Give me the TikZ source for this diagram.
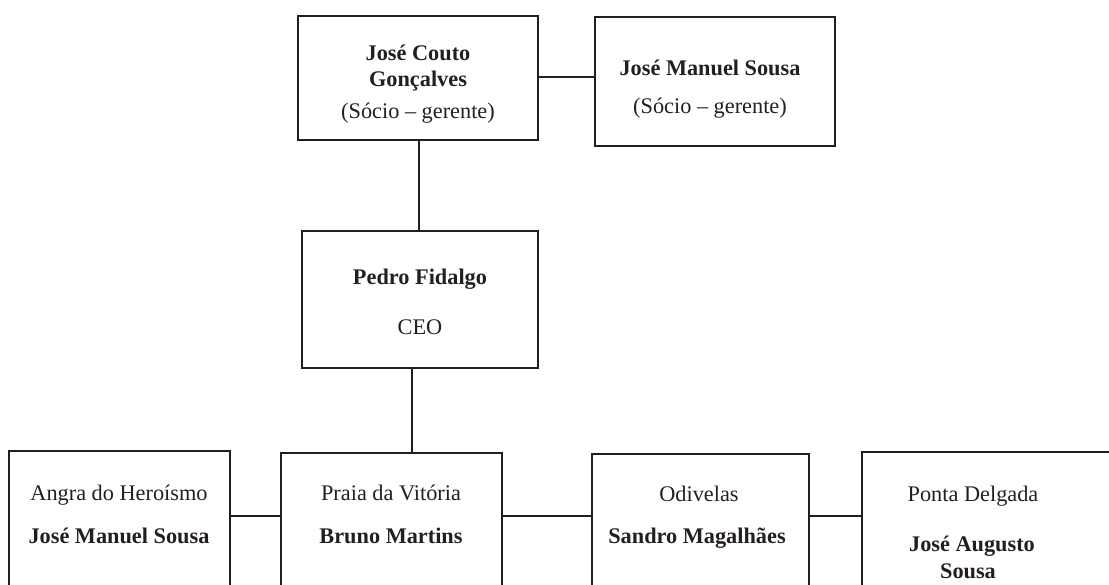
\documentclass[tikz,border=0pt]{standalone}
\usepackage{fontspec}
\setmainfont{Liberation Serif}
\definecolor{ink}{HTML}{231F20}
\begin{document}
\begin{tikzpicture}[x=1pt,y=-1pt,
  box/.style={draw=ink, line width=1.8pt, inner sep=0pt, outer sep=0pt},
  conn/.style={draw=ink, line width=1.8pt},
  txt/.style={anchor=base, inner sep=0pt, text=ink, font=\fontsize{22.3}{26}\selectfont},
  btxt/.style={txt, font=\fontsize{22.3}{26}\selectfont\bfseries}]
\useasboundingbox (0,0) rectangle (1109,584);
\clip (0,0) rectangle (1109,584);
% boxes
\node[box, minimum width=240pt, minimum height=124pt] (a1) at (418,78) {};
\node[box, minimum width=240pt, minimum height=129pt] (a2) at (715,81.5) {};
\node[box, minimum width=236pt, minimum height=137pt] (ceo) at (420,299.5) {};
\node[box, minimum width=221pt, minimum height=149pt] (b1) at (119.5,525.5) {};
\node[box, minimum width=221pt, minimum height=147pt] (b2) at (391.5,526.5) {};
\node[box, minimum width=217pt, minimum height=146pt] (b3) at (700.5,527) {};
\node[box, minimum width=338pt, minimum height=148pt] (b4) at (1031,526) {};
% texts
\node[btxt] (a1t1) at (418,60) {José Couto};
\node[btxt] (a1t2) at (418,86) {Gonçalves};
\node[txt] (a1t3) at (418,118) {(Sócio – gerente)};
\node[btxt] (a2t1) at (710,75.5) {José Manuel Sousa};
\node[txt] (a2t2) at (710,113) {(Sócio – gerente)};
\node[btxt] (ceot1) at (420,284) {Pedro Fidalgo};
\node[txt] (ceot2) at (420,334) {CEO};
\node[txt] (b1t1) at (119,500) {Angra do Heroísmo};
\node[btxt] (b1t2) at (119,543) {José Manuel Sousa};
\node[txt] (b2t1) at (391,500) {Praia da Vitória};
\node[btxt] (b2t2) at (391,543) {Bruno Martins};
\node[txt] (b3t1) at (699,501) {Odivelas};
\node[btxt] (b3t2) at (697,543) {Sandro Magalhães};
\node[txt] (b4t1) at (973,501) {Ponta Delgada};
\node[btxt] (b4t2) at (972,551) {José Augusto};
\node[btxt] (b4t3) at (968,578) {Sousa};
% connectors
\draw[conn] (a1.east |- 0,77) -- (a2.west |- 0,77);
\draw[conn] (a1.south -| 419,0) -- (ceo.north -| 419,0);
\draw[conn] (ceo.south -| 412,0) -- (b2.north -| 412,0);
\draw[conn] (b1.east |- 0,516) -- (b2.west |- 0,516);
\draw[conn] (b2.east |- 0,516) -- (b3.west |- 0,516);
\draw[conn] (b3.east |- 0,516) -- (b4.west |- 0,516);
\end{tikzpicture}
\end{document}
